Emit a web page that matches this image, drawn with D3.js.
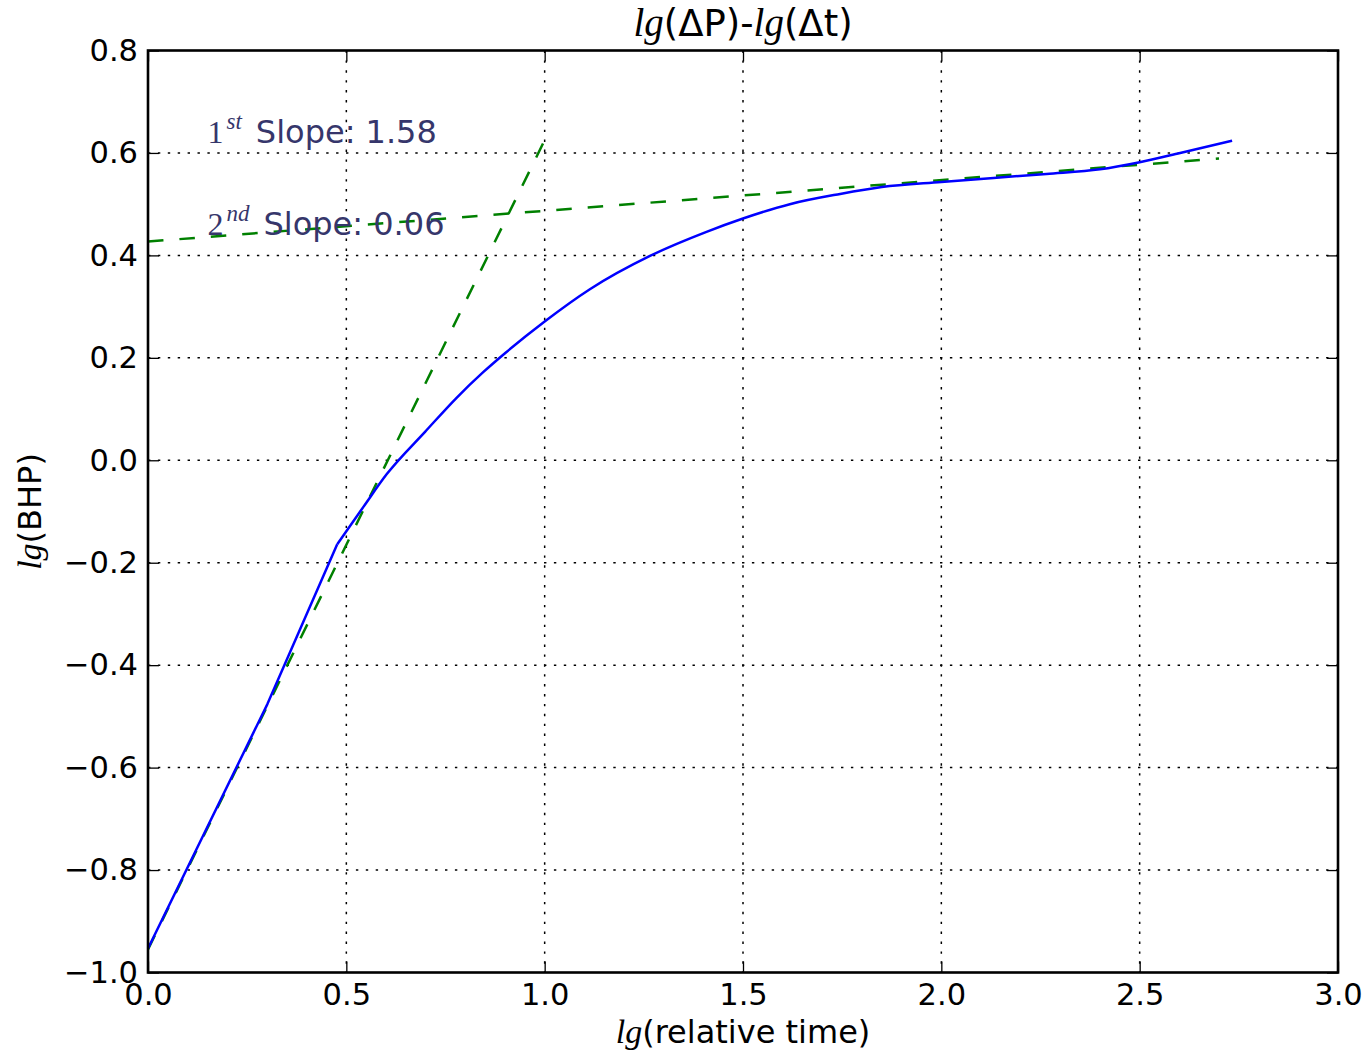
<!DOCTYPE html>
<html><head><meta charset="utf-8">
<script src="https://cdn.jsdelivr.net/npm/d3@7"></script>
<style>body{margin:0;background:#fff}svg{display:block}</style>
</head><body>
<script>
// ---- data ----
const xTicks = [0.0, 0.5, 1.0, 1.5, 2.0, 2.5, 3.0];
const yTicks = [-1.0, -0.8, -0.6, -0.4, -0.2, 0.0, 0.2, 0.4, 0.6, 0.8];
// early-time points (straight segments)
const bhpEarlyX = [0, 0.301, 0.477];
const bhpEarlyY = [-0.953, -0.476, -0.164];
// later smooth part
const bhpX = [0.477, 0.543, 0.602, 0.699, 0.778, 0.845, 0.903, 1.0, 1.114, 1.2655, 1.408, 1.5, 1.618, 1.745, 1.85, 2.0, 2.265, 2.4, 2.5, 2.602, 2.733];
const bhpY = [-0.164, -0.091, -0.027, 0.056, 0.122, 0.172, 0.211, 0.271, 0.334, 0.399, 0.446, 0.472, 0.500, 0.520, 0.5335, 0.5435, 0.559, 0.568, 0.582, 0.6, 0.624];
const fit1X = [0.0, 1.0];
const fit1Y = [-0.955, 0.625];
const fit2X = [0.0, 2.7];
const fit2Y = [0.427, 0.589];
const notes = [
  {num: "1", sup: "st", text: "Slope: 1.58", x: 0.15, y: 0.62},
  {num: "2", sup: "nd", text: "Slope: 0.06", x: 0.15, y: 0.44}
];

const W = 1371, H = 1057;
const L = 148, R = 1338, T = 50.5, B = 972.5;
const svg = d3.select("body").append("svg").attr("width", W).attr("height", H);
const x = d3.scaleLinear().domain([0, 3]).range([L, R]);
const y = d3.scaleLinear().domain([-1, 0.8]).range([B, T]);

const FS = 30.5;
const sans = "'DejaVu Sans', sans-serif";
const serif = "'Liberation Serif', 'DejaVu Serif', serif";
const fmt = v => d3.format(".1f")(v).replace("-", "\u2212");

// grid
const g = svg.append("g");
g.selectAll(".gx").data(xTicks.slice(1, -1)).join("line")
  .attr("x1", d => x(d)).attr("x2", d => x(d)).attr("y1", T).attr("y2", B)
  .attr("stroke", "#000").attr("stroke-width", 1.5).attr("stroke-dasharray", "2.4,7.5");
g.selectAll(".gy").data(yTicks.slice(1, -1)).join("line")
  .attr("y1", d => y(d)).attr("y2", d => y(d)).attr("x1", L).attr("x2", R)
  .attr("stroke", "#000").attr("stroke-width", 1.5).attr("stroke-dasharray", "2.4,7.5");

// lines
const line = d3.line().x(d => x(d[0])).y(d => y(d[1]));
[[fit1X, fit1Y], [fit2X, fit2Y]].forEach(([xs, ys]) => {
  svg.append("path").datum(xs.map((v, i) => [v, ys[i]])).attr("d", line)
    .attr("fill", "none").attr("stroke", "#008000").attr("stroke-width", 2.5).attr("stroke-dasharray", "15.5,16");
});
svg.append("path").datum(bhpEarlyX.map((v, i) => [v, bhpEarlyY[i]])).attr("d", line)
  .attr("fill", "none").attr("stroke", "#0000ff").attr("stroke-width", 2.5).attr("stroke-linejoin", "round");
svg.append("path").datum(bhpX.map((v, i) => [v, bhpY[i]]))
  .attr("d", d3.line().x(d => x(d[0])).y(d => y(d[1])).curve(d3.curveMonotoneX))
  .attr("fill", "none").attr("stroke", "#0000ff").attr("stroke-width", 2.5).attr("stroke-linejoin", "round");

// axes with inward ticks on all sides
const tk = 11;
const axB = d3.axisBottom(x).tickValues(xTicks).tickSize(-tk).tickPadding(11).tickFormat(fmt);
const axT = d3.axisTop(x).tickValues(xTicks).tickSize(-tk).tickFormat("");
const axL = d3.axisLeft(y).tickValues(yTicks).tickSize(-tk).tickPadding(10).tickFormat(fmt);
const axR = d3.axisRight(y).tickValues(yTicks).tickSize(-tk).tickFormat("");
function style(sel) {
  sel.select(".domain").remove();
  sel.selectAll("line").attr("stroke", "#000").attr("stroke-width", 1.3);
  sel.selectAll("text").attr("font-family", sans).attr("font-size", FS).attr("fill", "#000");
}
svg.append("g").attr("transform", `translate(0,${B})`).call(axB).call(style);
svg.append("g").attr("transform", `translate(0,${T})`).call(axT).call(style);
svg.append("g").attr("transform", `translate(${L},0)`).call(axL).call(style);
svg.append("g").attr("transform", `translate(${R},0)`).call(axR).call(style);

svg.append("rect").attr("x", L).attr("y", T).attr("width", R - L).attr("height", B - T)
  .attr("fill", "none").attr("stroke", "#000").attr("stroke-width", 2.6);

// annotations
const noteColor = "#36366b";
notes.forEach(n => {
  const t = svg.append("text").attr("x", x(n.x)).attr("y", y(n.y)).attr("fill", noteColor).attr("font-size", 32);
  t.append("tspan").attr("font-family", serif).attr("font-size", 32).text(n.num);
  t.append("tspan").attr("font-family", serif).attr("font-style", "italic").attr("font-size", 23).attr("dy", -14).attr("dx", 3).text(n.sup);
  t.append("tspan").attr("font-family", sans).attr("dy", 14).attr("dx", 14).text(n.text);
});

// title & axis labels
function mathLabel(sel, parts, fs) {
  parts.forEach(p => {
    const ts = sel.append("tspan").text(p[0]);
    if (p[1]) ts.attr("font-family", serif).attr("font-style", "italic").attr("font-size", fs + 2);
    else ts.attr("font-family", sans).attr("font-size", fs);
  });
}
const title = svg.append("text").attr("x", (L + R) / 2).attr("y", 36).attr("text-anchor", "middle").attr("fill", "#000");
mathLabel(title, [["lg", 1], ["(\u0394P)-"], ["lg", 1], ["(\u0394t)"]], 37);

const xl = svg.append("text").attr("x", (L + R) / 2).attr("y", 1043).attr("text-anchor", "middle").attr("fill", "#000");
mathLabel(xl, [["lg", 1], ["(relative time)"]], 32);

const yl = svg.append("text").attr("transform", `translate(41,${(T + B) / 2}) rotate(-90)`).attr("text-anchor", "middle").attr("fill", "#000");
mathLabel(yl, [["lg", 1], ["(BHP)"]], 32);
</script>
</body></html>
